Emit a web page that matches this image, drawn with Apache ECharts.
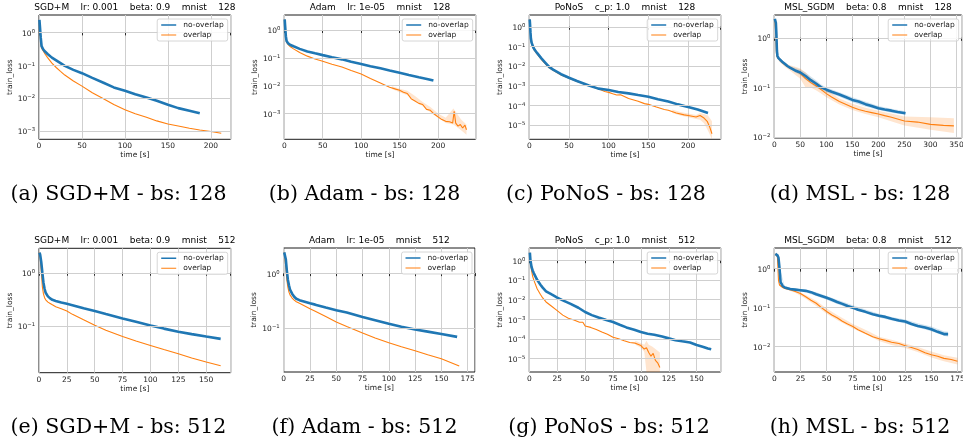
<!DOCTYPE html>
<html><head><meta charset="utf-8">
<script src="https://cdn.jsdelivr.net/npm/echarts@6/dist/echarts.min.js"></script>
<style>html,body{margin:0;padding:0;background:#fff}#c{width:963px;height:443px}</style>
</head><body><div id="c"></div><script>
// ---------- DATA (time [s], train_loss) ----------
// (a) SGD+M bs 128
const a_noT = [0.5,1,2,3,5,7,10,15,20,30,40,50,62,75,87,100,112,125,137,150,162,175,187];
const a_noY = [2.4,1.6,0.7,0.38,0.3,0.26,0.22,0.17,0.14,0.095,0.072,0.057,0.041,0.029,0.021,0.0165,0.013,0.0104,0.0082,0.0062,0.0049,0.0041,0.0034];
const a_ovT = [0.5,1,2,3,5,7,10,15,20,25,30,40,50,62,75,87,100,112,125,137,150,162,175,187,200,212];
const a_ovY = [2.4,1.2,0.45,0.33,0.27,0.22,0.17,0.115,0.085,0.065,0.05,0.033,0.023,0.0145,0.0095,0.0063,0.0044,0.0033,0.0026,0.002,0.0016,0.0014,0.0012,0.00105,0.00095,0.00084];
// (b) Adam bs 128
const b_noT = [0.5,1,2,3,5,8,12,20,30,40,50,62,75,87,100,112,125,137,150,162,175,187,194];
const b_noY = [2.4,1.5,0.6,0.4,0.33,0.29,0.26,0.21,0.17,0.145,0.125,0.105,0.088,0.072,0.06,0.05,0.042,0.035,0.029,0.024,0.02,0.017,0.0152];
const b_ovT = [0.5,1,2,3,5,8,12,20,30,40,50,62,75,87,100,112,125,137,145,150,155,160,165,170,175,180,185,190,195,200,205,210,215,219,221,223,226,229,232,235,237];
const b_ovY = [2.4,1.2,0.5,0.36,0.3,0.25,0.21,0.155,0.115,0.09,0.075,0.059,0.047,0.035,0.026,0.018,0.0125,0.0088,0.0075,0.0068,0.0058,0.0052,0.0034,0.0028,0.0023,0.0021,0.0014,0.0013,0.00095,0.00075,0.0006,0.00052,0.0005,0.00045,0.0012,0.00045,0.00035,0.0004,0.0003,0.00038,0.00026];
const b_ovBandT  = [140,150,160,170,180,190,200,210,220,230,237];
const b_ovBandLo = [0.0075,0.0058,0.0045,0.003,0.0018,0.0011,0.0007,0.00045,0.0004,0.00025,0.00017];
const b_ovBandHi = [0.0095,0.0078,0.0065,0.0042,0.0026,0.0017,0.001,0.0007,0.0015,0.0006,0.0004];
// (c) PoNoS bs 128
const c_noT = [0.5,1,1.5,2,3,5,7,10,15,20,25,30,40,50,60,75,87,100,112,125,137,150,162,175,187,200,212,225];
const c_noY = [2.4,1.2,0.5,0.25,0.15,0.09,0.065,0.045,0.025,0.015,0.009,0.0065,0.0038,0.0025,0.0017,0.001,0.0007,0.0006,0.00047,0.0004,0.00033,0.00027,0.0002,0.000155,0.00011,0.00008,0.00006,0.00004];
const c_ovT = [0.5,1,1.5,2,3,5,7,10,15,20,25,30,40,50,60,75,87,95,100,105,110,115,125,137,145,150,160,170,175,185,195,200,210,215,220,224,227,230];
const c_ovY = [2.4,1.0,0.4,0.22,0.13,0.08,0.058,0.04,0.022,0.013,0.008,0.006,0.0035,0.0024,0.0016,0.001,0.00068,0.0005,0.00045,0.00038,0.00033,0.00034,0.00022,0.00016,0.00012,0.00011,0.00008,0.00006,0.000055,0.00004,0.000032,0.00003,0.000025,0.00003,0.000022,0.000015,0.000008,0.0000035];
const c_ovBandT  = [180,190,200,210,215,220,225,230];
const c_ovBandLo = [0.00004,0.00003,0.000024,0.00002,0.000018,0.000012,0.000005,0.0000019];
const c_ovBandHi = [0.00006,0.000045,0.000038,0.000032,0.00004,0.000035,0.00003,0.000015];
// (d) MSL_SGDM bs 128
const d_noT = [1,2,3,4,5,6,8,10,15,20,25,30,40,50,60,70,80,90,100,110,125,137,150,162,175,187,200,212,225,237,252];
const d_noY = [2.4,2.3,2.0,1.2,0.55,0.43,0.39,0.36,0.33,0.3,0.27,0.25,0.22,0.2,0.17,0.14,0.12,0.1,0.09,0.082,0.072,0.064,0.056,0.052,0.046,0.042,0.038,0.036,0.034,0.032,0.03];
const d_ovT = [1,2,3,4,5,6,8,10,15,20,25,30,40,50,60,70,80,90,100,110,125,137,150,162,175,187,200,212,225,250,275,300,325,345];
const d_ovY = [2.4,2.2,1.2,0.5,0.42,0.4,0.38,0.36,0.32,0.29,0.27,0.25,0.22,0.19,0.15,0.125,0.108,0.09,0.075,0.064,0.052,0.046,0.04,0.036,0.033,0.031,0.029,0.027,0.025,0.021,0.02,0.018,0.0172,0.0168];
const d_noBandT  = [5,10,20,30,40,50,60,70,80,90,100,125,150,175,200,225,252];
const d_noBandLo = [0.45,0.33,0.28,0.235,0.2,0.175,0.145,0.12,0.1,0.088,0.08,0.065,0.05,0.041,0.035,0.031,0.028];
const d_noBandHi = [0.6,0.4,0.32,0.27,0.25,0.23,0.2,0.165,0.14,0.115,0.1,0.08,0.063,0.052,0.042,0.037,0.033];
const d_ovBandT  = [5,10,20,30,40,50,60,70,80,90,100,125,150,175,200,250,300,345];
const d_ovBandLo = [0.4,0.33,0.26,0.22,0.18,0.15,0.1,0.1,0.088,0.075,0.063,0.045,0.035,0.029,0.025,0.017,0.014,0.012];
const d_ovBandHi = [0.48,0.4,0.31,0.28,0.26,0.24,0.2,0.155,0.13,0.108,0.09,0.06,0.047,0.039,0.034,0.026,0.025,0.024];
// (e) SGD+M bs 512
const e_noT = [0.5,1,2,3,4,5,6,8,10,12,15,20,25,30,40,50,60,75,87,100,112,125,137,150,163];
const e_noY = [2.4,2.2,1.6,1.0,0.65,0.5,0.42,0.36,0.33,0.31,0.295,0.275,0.26,0.245,0.215,0.19,0.167,0.138,0.12,0.102,0.089,0.078,0.07,0.063,0.057];
const e_ovT = [0.5,1,2,3,4,5,6,8,10,12,15,20,25,30,40,50,60,75,87,100,112,125,137,150,163];
const e_ovY = [2.4,2.0,1.1,0.55,0.4,0.34,0.31,0.28,0.265,0.25,0.23,0.21,0.19,0.165,0.13,0.103,0.083,0.063,0.052,0.043,0.036,0.03,0.025,0.021,0.0178];
// (f) Adam bs 512
const f_noT = [0.5,1,2,3,4,5,6,8,10,12,15,20,25,30,40,50,60,75,87,100,112,125,137,150,165];
const f_noY = [2.4,2.3,1.8,1.1,0.75,0.6,0.5,0.42,0.37,0.34,0.32,0.3,0.28,0.265,0.235,0.21,0.19,0.157,0.137,0.118,0.104,0.093,0.085,0.077,0.068];
const f_ovT = [0.5,1,2,3,4,5,6,8,10,12,15,20,25,30,40,50,60,75,87,100,112,125,137,150,167];
const f_ovY = [2.4,2.0,1.3,0.75,0.55,0.45,0.4,0.35,0.32,0.3,0.28,0.25,0.222,0.2,0.16,0.127,0.105,0.08,0.065,0.053,0.045,0.038,0.032,0.027,0.02];
// (g) PoNoS bs 512
const g_noT = [0.5,1,2,3,4,5,7,10,12,15,20,25,30,37,44,50,56,62,69,75,81,87,94,100,106,112,119,125,131,137,144,150,156,160,163];
const g_noY = [2.4,1.0,0.45,0.3,0.22,0.17,0.1,0.056,0.04,0.026,0.018,0.0125,0.009,0.006,0.0038,0.0023,0.0016,0.0012,0.0009,0.00072,0.00052,0.00038,0.00029,0.00022,0.00018,0.00016,0.00013,0.000105,0.000085,0.000075,0.000065,0.000048,0.000038,0.000032,0.000029];
const g_ovT = [0.5,1,2,3,4,5,7,10,12,15,20,25,30,35,40,45,48,50,55,60,65,70,75,80,85,90,95,100,103,105,107,109,111,113,115,117];
const g_ovY = [2.4,0.9,0.3,0.15,0.1,0.07,0.035,0.018,0.012,0.0075,0.0045,0.0027,0.0016,0.0011,0.0009,0.0007,0.0007,0.00045,0.00038,0.0003,0.00022,0.00017,0.00012,0.0001,0.00008,0.000065,0.00006,0.000045,0.00003,0.000035,0.00002,0.000013,0.000018,0.000008,0.000006,0.0000035];
const g_ovBandT  = [95,100,103,105,107,110,113,117];
const g_ovBandLo = [0.00005,0.000035,0.000022,0.000002,0.000002,0.000002,0.000002,0.000002];
const g_ovBandHi = [0.00008,0.00006,0.00005,0.00008,0.00005,0.00004,0.00003,0.00002];
// (h) MSL_SGDM bs 512
const h_noT = [1,2,3,4,5,6,8,10,15,20,25,30,35,40,45,50,55,60,65,70,75,80,87,94,100,106,112,119,125,131,137,144,150,156,162,166];
const h_noY = [2.4,2.3,2.2,1.9,1.0,0.45,0.36,0.33,0.3,0.29,0.28,0.27,0.25,0.22,0.2,0.18,0.16,0.14,0.125,0.11,0.1,0.088,0.078,0.068,0.062,0.058,0.052,0.047,0.044,0.038,0.034,0.031,0.028,0.024,0.021,0.021];
const h_ovT = [1,2,3,4,5,6,8,10,15,20,25,30,35,40,45,50,55,60,65,70,75,80,87,94,100,106,112,119,125,131,137,144,150,156,162,169,175];
const h_ovY = [2.4,2.3,2.0,0.5,0.38,0.35,0.33,0.31,0.29,0.26,0.23,0.19,0.155,0.13,0.1,0.08,0.065,0.055,0.045,0.038,0.033,0.027,0.022,0.018,0.016,0.0145,0.013,0.012,0.0105,0.0095,0.0085,0.007,0.0062,0.0057,0.005,0.0047,0.0042];
const h_noBandT  = [5,10,20,30,40,50,60,75,90,100,112,125,137,150,162,166];
const h_noBandLo = [0.9,0.31,0.27,0.25,0.2,0.16,0.125,0.09,0.07,0.056,0.047,0.039,0.031,0.025,0.019,0.018];
const h_noBandHi = [1.1,0.35,0.31,0.29,0.25,0.2,0.16,0.115,0.085,0.07,0.058,0.05,0.04,0.033,0.025,0.024];
const h_ovBandT  = [5,10,20,30,40,50,60,75,90,100,112,125,137,150,162,175];
const h_ovBandLo = [0.36,0.3,0.24,0.17,0.11,0.07,0.048,0.029,0.019,0.014,0.011,0.0092,0.0073,0.0053,0.0042,0.0035];
const h_ovBandHi = [0.4,0.33,0.28,0.21,0.15,0.095,0.065,0.038,0.025,0.018,0.015,0.012,0.0098,0.0075,0.006,0.0052];

// tick labels (decades) per panel
const ticks3 = [1e-3,1e-2,1e-1,1];
const ticks5 = [1e-5,1e-4,1e-3,1e-2,1e-1,1];
const ticks2 = [1e-2,1e-1,1];
const ticks1 = [1e-1,1];

const seriesNames = ['no-overlap','overlap'];
const titles = [
  'SGD+M    lr: 0.001    beta: 0.9    mnist    128',
  'Adam    lr: 1e-05    mnist    128',
  'PoNoS    c_p: 1.0    mnist    128',
  'MSL_SGDM    beta: 0.8    mnist    128',
  'SGD+M    lr: 0.001    beta: 0.9    mnist    512',
  'Adam    lr: 1e-05    mnist    512',
  'PoNoS    c_p: 1.0    mnist    512',
  'MSL_SGDM    beta: 0.8    mnist    512'
];
const captions = ['(a) SGD+M - bs: 128','(b) Adam - bs: 128','(c) PoNoS - bs: 128','(d) MSL - bs: 128',
                  '(e) SGD+M - bs: 512','(f) Adam - bs: 512','(g) PoNoS - bs: 512','(h) MSL - bs: 512'];

const panels = [
  {no:[a_noT,a_noY], ov:[a_ovT,a_ovY], bands:[], ticks:ticks3, xMax:223, xInt:50, yMin:-3.26, yMax:0.53},
  {no:[b_noT,b_noY], ov:[b_ovT,b_ovY], bands:[[1,b_ovBandT,b_ovBandLo,b_ovBandHi]], ticks:ticks3, xMax:249, xInt:50, yMin:-3.93, yMax:0.54},
  {no:[c_noT,c_noY], ov:[c_ovT,c_ovY], bands:[[1,c_ovBandT,c_ovBandLo,c_ovBandHi]], ticks:ticks5, xMax:241, xInt:50, yMin:-5.74, yMax:0.6},
  {no:[d_noT,d_noY], ov:[d_ovT,d_ovY], bands:[[0,d_noBandT,d_noBandLo,d_noBandHi],[1,d_ovBandT,d_ovBandLo,d_ovBandHi]], ticks:ticks2, xMax:360, xInt:50, yMin:-2.02, yMax:0.46},
  {no:[e_noT,e_noY], ov:[e_ovT,e_ovY], bands:[], ticks:ticks1, xMax:172, xInt:25, yMin:-1.88, yMax:0.46},
  {no:[f_noT,f_noY], ov:[f_ovT,f_ovY], bands:[], ticks:ticks1, xMax:182, xInt:25, yMin:-1.81, yMax:0.46},
  {no:[g_noT,g_noY], ov:[g_ovT,g_ovY], bands:[[1,g_ovBandT,g_ovBandLo,g_ovBandHi]], ticks:ticks5, xMax:171.5, xInt:25, yMin:-5.69, yMax:0.62},
  {no:[h_noT,h_noY], ov:[h_ovT,h_ovY], bands:[[0,h_noBandT,h_noBandLo,h_noBandHi],[1,h_ovBandT,h_ovBandLo,h_ovBandHi]], ticks:ticks2, xMax:179, xInt:25, yMin:-2.65, yMax:0.53}
];

// ---------- LAYOUT ----------
const boxes = [
  {l:39,t:15,r:230.7,b:139.3},{l:284.3,t:15,r:475.7,b:139.3},{l:529.3,t:15,r:720.7,b:139.3},{l:774.3,t:15,r:961.7,b:138},
  {l:39,t:248.3,r:230.7,b:372.7},{l:283.7,t:248,r:475,b:372},{l:529.3,t:248,r:720.7,b:372},{l:774.3,t:248,r:961.7,b:372}
];
const capPos = [[118.5,195],[364.5,195],[606,195],[860,195],[118.5,428],[364.5,428],[609,428],[860,428]];

const COLORS = ['#1f77b4','#ff7f0e'];
const FONT = 'DejaVu Sans';
const TXT = '#1a1a1a';
const GRIDC = '#cfcfcf';
function pts(T,Y){ return T.map((t,i)=>[t, Math.log10(Y[i])]); }
const richY = {
  b:{fontFamily:FONT, fontSize:7.5, color:TXT, verticalAlign:'bottom', lineHeight:11},
  e:{fontFamily:FONT, fontSize:5.3, color:TXT, verticalAlign:'bottom', lineHeight:11, padding:[0,0,4,0]}
};

const grid=[], xAxis=[], yAxis=[], series=[], legend=[], title=[], graphic=[];
panels.forEach((p,i)=>{
  const bx = boxes[i];
  grid.push({left:bx.l, top:bx.t, width:bx.r-bx.l, height:bx.b-bx.t, show:true, borderColor:'#000', borderWidth:0.9,
             backgroundColor:'#fff', containLabel:false, outerBoundsMode:'none'});
  xAxis.push({type:'value', gridIndex:i, min:0, max:p.xMax, interval:p.xInt,
    axisLine:{show:false}, axisTick:{show:true, length:3, lineStyle:{color:'#000', width:0.8}},
    splitLine:{show:true, lineStyle:{color:GRIDC, width:1}},
    axisLabel:{fontFamily:FONT, fontSize:7.5, color:TXT, margin:3,
      formatter:(v)=>{ const r=v/p.xInt; return Math.abs(r-Math.round(r))<1e-6 ? String(Math.round(v)) : ''; }},
    name:'time [s]', nameLocation:'middle', nameGap:11, nameTextStyle:{fontFamily:FONT, fontSize:7.5, color:TXT, verticalAlign:'top'}
  });
  const logTicks = p.ticks.map(d=>Math.round(Math.log10(d)));
  yAxis.push({type:'value', gridIndex:i, min:p.yMin, max:p.yMax, interval:0.01,
    axisLine:{show:false}, axisTick:{show:false}, splitLine:{show:false},
    axisLabel:{fontFamily:FONT, fontSize:7.5, color:TXT, margin:4, rich:richY,
      formatter:(v)=>{ const r=Math.round(v); return (Math.abs(v-r)<1e-6 && logTicks.indexOf(r)>=0) ? '{b|10}{e|'+String(r).replace('-','\u2212')+'}' : ''; }},
    name:'train_loss', nameLocation:'middle', nameGap:24, nameTextStyle:{fontFamily:FONT, fontSize:7.5, color:TXT}
  });
  // helper series carrying horizontal grid lines at the decade ticks
  series.push({type:'line', xAxisIndex:i, yAxisIndex:i, data:[], z:1, silent:true, symbol:'none',
    markLine:{silent:true, symbol:['none','none'], label:{show:false}, animation:false,
      lineStyle:{color:GRIDC, width:1, type:'solid'}, emphasis:{disabled:true},
      data: logTicks.map(v=>({yAxis:v}))}});
  // confidence bands
  p.bands.forEach(bd=>{
    const [si,T,LO,HI] = bd;
    series.push({type:'custom', xAxisIndex:i, yAxisIndex:i, z:2, silent:true, clip:true,
      data: T.map((t,j)=>[t, Math.log10(LO[j]), Math.log10(HI[j])]),
      encode:{x:0, y:[1,2]},
      renderItem:(params, api)=>{
        if (params.dataIndex !== 0) return null;
        const up = T.map((t,j)=>api.coord([t, Math.log10(HI[j])]));
        const dn = T.map((t,j)=>api.coord([t, Math.log10(LO[j])])).reverse();
        const cs = params.coordSys;
        return {type:'polygon', shape:{points: up.concat(dn)}, style:{fill:COLORS[si], opacity:0.2},
          clipPath:{type:'rect', shape:{x:cs.x, y:cs.y, width:cs.width, height:cs.height}}};
      }});
  });
  [p.no, p.ov].forEach((s,si)=>{
    series.push({type:'line', name:seriesNames[si], xAxisIndex:i, yAxisIndex:i, data:pts(s[0],s[1]),
      symbol:'none', showSymbol:false, clip:true, z:3+(1-si),
      lineStyle:{color:COLORS[si], width: si===0 ? 2.6 : 1.1}, itemStyle:{color:COLORS[si]}});
  });
  legend.push({show:true, orient:'vertical', right: 963-bx.r+3, top: bx.t+4,
    data:[{name:'no-overlap', icon:'path://M0,0h0.01v0.01h-0.01Z M0,4H20V6H0Z M20,10h-0.01v-0.01h0.01Z'},
          {name:'overlap', icon:'path://M0,0h0.01v0.01h-0.01Z M0,4.4H20V5.6H0Z M20,10h-0.01v-0.01h0.01Z'}],
    itemWidth:15, itemHeight:8, itemGap:2, padding:[2,4,2,4],
    borderColor:'#cccccc', borderWidth:0.8, borderRadius:2, backgroundColor:'rgba(255,255,255,0.85)',
    textStyle:{fontFamily:FONT, fontSize:7.5, color:TXT, padding:[0,0,0,2]}, selectedMode:false, z:10});
  title.push({text:titles[i], left:(bx.l+bx.r)/2, top:bx.t-12, textAlign:'center', padding:0,
    textStyle:{fontFamily:FONT, fontSize:9, fontWeight:'normal', color:'#000'}});
  graphic.push({type:'text', x:capPos[i][0], y:capPos[i][1],
    style:{text:captions[i], fontFamily:'DejaVu Serif', fontSize:20.5, fill:'#000', align:'center', verticalAlign:'middle'}});
});

const chart = echarts.init(document.getElementById('c'), null, {renderer:'canvas'});
chart.setOption({animation:false, backgroundColor:'#fff', grid, xAxis, yAxis, series, legend, title, graphic, tooltip:{show:false}});
</script></body></html>
